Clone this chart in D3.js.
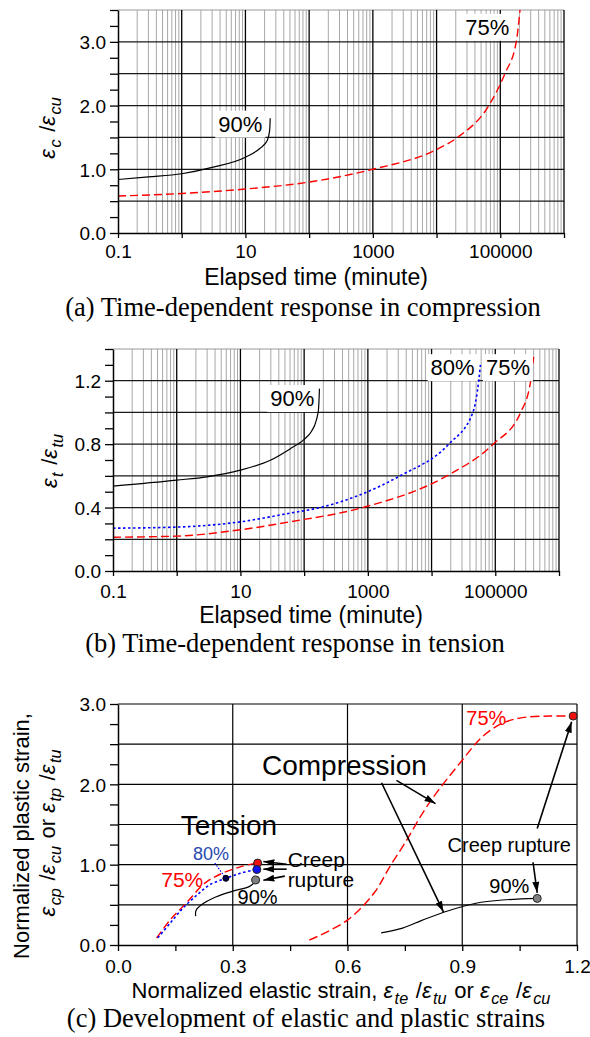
<!DOCTYPE html>
<html><head><meta charset="utf-8">
<script src="https://cdn.jsdelivr.net/npm/d3@7"></script>
<style>body{margin:0;background:#fff}svg{display:block}</style>
</head><body>
<svg id="chart" width="590" height="1037"></svg>
<script>
// ---------------- DATA ----------------
const timeTickValues = [0.1, 10, 1000, 100000];
const timeTickLabels = ["0.1", "10", "1000", "100000"];

// (a) compression: elapsed time (minute) vs eps_c/eps_cu
const compTime90  = [0.1, 0.3, 1, 3, 10, 17, 22, 24, 24.5];
const compRatio90 = [0.84, 0.88, 0.93, 1.03, 1.19, 1.33, 1.45, 1.61, 1.80];
const compTime75  = [0.1, 1, 10, 100, 1000, 10000, 21300, 66000, 118000, 178000, 204000];
const compRatio75 = [0.58, 0.62, 0.69, 0.80, 1.00, 1.31, 1.50, 2.00, 2.50, 3.00, 3.50];
const compYTickLabels = ["0.0", "1.0", "2.0", "3.0"];

// (b) tension: elapsed time (minute) vs eps_t/eps_tu
const tensTime90  = [0.1, 1, 3, 10, 30, 60, 100, 130, 155, 168, 174];
const tensRatio90 = [0.535, 0.573, 0.594, 0.636, 0.70, 0.77, 0.83, 0.88, 0.95, 1.02, 1.15];
const tensTime80  = [0.1, 1, 10, 60, 178, 3200, 18600, 44500, 55000, 58500];
const tensRatio80 = [0.27, 0.277, 0.31, 0.365, 0.40, 0.60, 0.80, 1.00, 1.20, 1.30];
const tensTime75  = [0.1, 1, 10, 60, 830, 17400, 93000, 250000, 360000, 400000];
const tensRatio75 = [0.213, 0.22, 0.26, 0.31, 0.40, 0.60, 0.80, 1.00, 1.20, 1.35];
const tensYTickLabels = ["0.0", "0.4", "0.8", "1.2"];

// (c) normalized elastic strain vs normalized plastic strain
const tens75Elastic = [0.101, 0.136, 0.180, 0.227, 0.271, 0.318, 0.352, 0.365];
const tens75Plastic = [0.087, 0.31, 0.53, 0.77, 0.89, 0.97, 1.01, 1.02];
const tens80Elastic = [0.104, 0.136, 0.17, 0.206, 0.24, 0.282, 0.318, 0.352, 0.363];
const tens80Plastic = [0.09, 0.27, 0.46, 0.62, 0.75, 0.83, 0.89, 0.93, 0.94];
const tens90Elastic = [0.203, 0.204, 0.218, 0.257, 0.30, 0.344, 0.36];
const tens90Plastic = [0.36, 0.43, 0.50, 0.60, 0.67, 0.73, 0.79];
const comp75Elastic = [0.50, 0.60, 0.67, 0.71, 0.754, 0.796, 0.832, 0.90, 0.952, 1.005, 1.057, 1.127, 1.19];
const comp75Plastic = [0.06, 0.31, 0.65, 0.97, 1.30, 1.64, 1.89, 2.30, 2.59, 2.76, 2.83, 2.85, 2.85];
const comp90Elastic = [0.688, 0.744, 0.796, 0.866, 0.936, 1.005, 1.096];
const comp90Plastic = [0.15, 0.21, 0.31, 0.43, 0.52, 0.56, 0.58];
const ruptureElastic = [0.365, 0.363, 0.360, 1.19, 1.096];
const rupturePlastic = [1.02, 0.94, 0.81, 2.85, 0.58];
const ruptureSeries  = ["t75", "t80", "t90", "c75", "c90"];
const strainXTickLabels = ["0.0", "0.3", "0.6", "0.9", "1.2"];
const strainYTickLabels = ["0.0", "1.0", "2.0", "3.0"];

// ---------------- DRAWING ----------------
const SANS = '"Liberation Sans", Arial, Helvetica, sans-serif';
const SERIF = '"Liberation Serif", "Times New Roman", serif';
const svg = d3.select("#chart");
const RED = "#ff0000", BLUE = "#0000ff";
const zip = (a, b) => a.map((v, i) => [v, b[i]]);

const defs = svg.append("defs");
defs.append("marker").attr("id", "arrow").attr("markerUnits", "userSpaceOnUse")
  .attr("markerWidth", 12).attr("markerHeight", 8).attr("refX", 11).attr("refY", 4)
  .attr("orient", "auto")
  .append("path").attr("d", "M0,0.5L11,4L0,7.5Z").attr("fill", "#000");

function richText(sel, parts, size) {
  let shifted = false;
  parts.forEach(p => {
    const ts = sel.append("tspan").text(p.t);
    if (p.it) ts.attr("font-style", "italic");
    if (p.sub) {
      ts.attr("font-size", size * 0.74);
      if (!shifted) { ts.attr("dy", size * 0.28).attr("dx", 1.5); shifted = true; }
    } else if (shifted) { ts.attr("dy", -size * 0.28).attr("dx", 1.5); shifted = false; }
  });
}
const eps = s => [{t: "ε", it: true}, {t: s, it: true, sub: true}];

function boxedLabel(g, x, y, txt, size, color) {
  const gg = g.append("g");
  const t = gg.append("text").attr("x", x).attr("y", y).attr("text-anchor", "middle")
    .attr("font-family", SANS).attr("font-size", size).attr("fill", color || "#000").text(txt);
  const bb = t.node().getBBox();
  gg.insert("rect", "text").attr("x", bb.x - 3).attr("y", bb.y - 1).attr("width", bb.width + 6)
    .attr("height", bb.height + 2).attr("fill", "#fff");
}

function styleAxis(ax, size) {
  ax.select(".domain").attr("stroke", "#000").attr("stroke-width", 1.5);
  ax.selectAll(".tick line").attr("stroke", "#000").attr("stroke-width", 1.3);
  ax.selectAll(".tick text").attr("font-family", SANS).attr("font-size", size).attr("fill", "#000");
}

function timeChart(o) {
  const x = d3.scaleLog().domain([0.1, 1e6]).range([o.left, o.right]);
  const y = d3.scaleLinear().domain([0, o.ymax]).range([o.bottom, o.top]);
  const g = svg.append("g");
  const minors = [];
  for (let e = -1; e < 6; e++) for (let k = 2; k < 10; k++) minors.push(k * Math.pow(10, e));
  g.selectAll(null).data(minors).join("line")
    .attr("x1", d => x(d)).attr("x2", d => x(d)).attr("y1", o.top).attr("y2", o.bottom)
    .attr("stroke", "#a8a8a8").attr("stroke-width", 1);
  const nH = Math.round(o.ymax / o.gridStep);
  const hs = d3.range(1, nH + 1).map(i => +(i * o.gridStep).toFixed(3));
  g.selectAll(null).data(hs).join("line")
    .attr("x1", o.left).attr("x2", o.right).attr("y1", d => y(d)).attr("y2", d => y(d))
    .attr("stroke", (d, i) => i === nH - 1 ? "#999" : "#1a1a1a").attr("stroke-width", 1.2);
  const decades = d3.range(0, 7).map(e => Math.pow(10, e));
  g.selectAll(null).data(decades).join("line")
    .attr("x1", d => x(d)).attr("x2", d => x(d)).attr("y1", o.top).attr("y2", o.bottom)
    .attr("stroke", "#000").attr("stroke-width", 1.3);

  const line = d3.line().x(d => x(d[0])).y(d => y(d[1])).curve(d3.curveMonotoneX);
  o.series.forEach(s => {
    g.append("path").attr("d", line(zip(s.t, s.v))).attr("fill", "none")
      .attr("stroke", s.color).attr("stroke-width", s.width || 1.4)
      .attr("stroke-dasharray", s.dash || null);
  });
  o.labels.forEach(l => boxedLabel(g, x(l.t), y(l.v), l.text, 22));

  // axes
  const ax = g.append("g").attr("transform", `translate(0,${o.bottom})`)
    .call(d3.axisBottom(x).tickValues([0.1, ...decades]).tickSize(5).tickSizeOuter(0)
      .tickFormat(d => {
        const i = timeTickValues.findIndex(v => Math.abs(v - d) / v < 1e-6);
        return i >= 0 ? timeTickLabels[i] : "";
      }));
  styleAxis(ax, 19);
  ax.selectAll(".tick text").attr("y", o.tickBase - o.bottom).attr("dy", 0);
  const yt = d3.range(0, Math.round(o.ymax / o.minorStep) + 1).map(i => +(i * o.minorStep).toFixed(3));
  const ay = g.append("g").attr("transform", `translate(${o.left},0)`)
    .call(d3.axisLeft(y).tickValues(yt).tickSize(8).tickPadding(4).tickSizeOuter(0)
      .tickFormat(d => {
        const i = o.yLabelVals.findIndex(v => Math.abs(v - d) < 1e-6);
        return i >= 0 ? o.yLabels[i] : "";
      }));
  styleAxis(ay, 19);
  ay.selectAll(".tick text").attr("dy", "0.36em");

  g.append("text").attr("x", o.xLabelX).attr("y", o.xLabelBase).attr("text-anchor", "middle")
    .attr("font-family", SANS).attr("font-size", 23).text("Elapsed time (minute)");
  g.append("text").attr("x", o.capX).attr("y", o.capBase).attr("text-anchor", "middle")
    .attr("font-family", SERIF).attr("font-size", 26.5).text(o.caption);
  const yl = g.append("text").attr("transform", `translate(${o.yLabX},${o.yLabY}) rotate(-90)`)
    .attr("text-anchor", "middle").attr("font-family", SANS).attr("font-size", 22);
  richText(yl, o.yLabParts, 22);
}

timeChart({
  left: 118, right: 564, top: 10, bottom: 233, ymax: 3.5, gridStep: 0.5, minorStep: 0.25,
  yLabelVals: [0, 1, 2, 3], yLabels: compYTickLabels, tickBase: 258,
  xLabelX: 316, xLabelBase: 285, capX: 303, capBase: 316,
  caption: "(a) Time-dependent response in compression",
  yLabX: 55, yLabY: 128, yLabParts: [...eps("c"), {t: " /"}, ...eps("cu")],
  series: [
    {t: compTime90, v: compRatio90, color: "#000", width: 1.2},
    {t: compTime75, v: compRatio75, color: RED, dash: "8,4", width: 1.4}
  ],
  labels: [{t: 8.3, v: 1.59, text: "90%"}, {t: 62400, v: 3.11, text: "75%"}]
});

timeChart({
  left: 113, right: 559, top: 349, bottom: 571, ymax: 1.4, gridStep: 0.2, minorStep: 0.1,
  yLabelVals: [0, 0.4, 0.8, 1.2], yLabels: tensYTickLabels, tickBase: 598,
  xLabelX: 311, xLabelBase: 623, capX: 295, capBase: 652,
  caption: "(b) Time-dependent response in tension",
  yLabX: 57, yLabY: 461, yLabParts: [...eps("t"), {t: " /"}, ...eps("tu")],
  series: [
    {t: tensTime90, v: tensRatio90, color: "#000", width: 1.2},
    {t: tensTime80, v: tensRatio80, color: BLUE, dash: "2.5,2.5", width: 1.6},
    {t: tensTime75, v: tensRatio75, color: RED, dash: "8,4", width: 1.4}
  ],
  labels: [{t: 65, v: 1.04, text: "90%"}, {t: 21400, v: 1.235, text: "80%"}, {t: 158000, v: 1.235, text: "75%"}]
});

// ---------- (c) ----------
(function () {
  const L = 118, R = 577, T = 704, B = 945;
  const x = d3.scaleLinear().domain([0, 1.2]).range([L, R]);
  const y = d3.scaleLinear().domain([0, 3]).range([B, T]);
  const g = svg.append("g");
  g.selectAll(null).data([0.3, 0.6, 0.9, 1.2]).join("line")
    .attr("x1", d => x(d)).attr("x2", d => x(d)).attr("y1", T).attr("y2", B)
    .attr("stroke", "#000").attr("stroke-width", 1.2);
  g.selectAll(null).data([0.5, 1, 1.5, 2, 2.5, 3]).join("line")
    .attr("x1", L).attr("x2", R).attr("y1", d => y(d)).attr("y2", d => y(d))
    .attr("stroke", "#000").attr("stroke-width", 1.2);

  const line = d3.line().x(d => x(d[0])).y(d => y(d[1])).curve(d3.curveCatmullRom.alpha(0.5));
  const series = [
    {x: tens75Elastic, y: tens75Plastic, color: RED, dash: "8,4", w: 1.4},
    {x: tens80Elastic, y: tens80Plastic, color: BLUE, dash: "2.5,2.5", w: 1.6},
    {x: tens90Elastic, y: tens90Plastic, color: "#000", w: 1.2},
    {x: comp75Elastic, y: comp75Plastic, color: RED, dash: "9,4", w: 1.4},
    {x: comp90Elastic, y: comp90Plastic, color: "#000", w: 1.2}
  ];
  series.forEach(s => g.append("path").attr("d", line(zip(s.x, s.y))).attr("fill", "none")
    .attr("stroke", s.color).attr("stroke-width", s.w).attr("stroke-dasharray", s.dash || null));

  // 80% leader
  g.append("line").attr("x1", x(0.253)).attr("y1", y(1.02)).attr("x2", x(0.282)).attr("y2", y(0.83))
    .attr("stroke", BLUE).attr("stroke-width", 1.2).attr("stroke-dasharray", "1.5,1.5");
  g.append("circle").attr("cx", x(0.282)).attr("cy", y(0.83)).attr("r", 3)
    .attr("fill", "#000050").attr("stroke", "#000").attr("stroke-width", 1);

  const dotFill = {t75: "#ee1111", t80: "#1111ee", t90: "#808080", c75: "#ee1111", c90: "#808080"};
  g.selectAll(null).data(d3.range(ruptureElastic.length)).join("circle")
    .attr("cx", i => x(ruptureElastic[i])).attr("cy", i => y(rupturePlastic[i])).attr("r", 4)
    .attr("fill", i => dotFill[ruptureSeries[i]]).attr("stroke", "#222").attr("stroke-width", 1);

  const arrows = [
    [[0.728, 2.05], [0.830, 1.76]],
    [[0.689, 2.02], [0.851, 0.41]],
    [[1.096, 1.45], [1.186, 2.78]],
    [[1.085, 1.03], [1.096, 0.65]],
    [[0.441, 1.006], [0.380, 1.04]],
    [[0.441, 0.944], [0.380, 0.944]],
    [[0.436, 0.857], [0.380, 0.807]]
  ];
  arrows.forEach(a => g.append("line").attr("x1", x(a[0][0])).attr("y1", y(a[0][1]))
    .attr("x2", x(a[1][0])).attr("y2", y(a[1][1])).attr("stroke", "#000").attr("stroke-width", 1.6)
    .attr("marker-end", "url(#arrow)"));

  const texts = [
    {x: 0.592, y: 2.11, t: "Compression", s: 28, a: "middle", c: "#000"},
    {x: 0.29, y: 1.37, t: "Tension", s: 28, a: "middle", c: "#000"},
    {x: 0.243, y: 1.056, t: "80%", s: 18, a: "middle", c: "#2848b0"},
    {x: 0.168, y: 0.72, t: "75%", s: 21, a: "middle", c: RED},
    {x: 0.365, y: 0.51, t: "90%", s: 20, a: "middle", c: "#000"},
    {x: 0.4435, y: 0.97, t: "Creep", s: 21, a: "start", c: "#000"},
    {x: 0.4435, y: 0.72, t: "rupture", s: 21, a: "start", c: "#000"},
    {x: 1.023, y: 1.155, t: "Creep rupture", s: 20, a: "middle", c: "#000"},
    {x: 0.963, y: 2.733, t: "75%", s: 20, a: "middle", c: RED},
    {x: 1.023, y: 0.646, t: "90%", s: 20, a: "middle", c: "#000"}
  ];
  texts.forEach(d => g.append("text").attr("x", x(d.x)).attr("y", y(d.y)).attr("text-anchor", d.a)
    .attr("font-family", SANS).attr("font-size", d.s).attr("fill", d.c).text(d.t));

  const xt = d3.range(0, 9).map(i => +(i * 0.15).toFixed(2));
  const ax = g.append("g").attr("transform", `translate(0,${B})`)
    .call(d3.axisBottom(x).tickValues(xt).tickSize(6).tickSizeOuter(0)
      .tickFormat((d, i) => i % 2 === 0 ? strainXTickLabels[i / 2] : ""));
  styleAxis(ax, 19);
  ax.selectAll(".tick text").attr("y", 973 - B).attr("dy", 0);
  const yt = d3.range(0, 13).map(i => +(i * 0.25).toFixed(2));
  const ay = g.append("g").attr("transform", `translate(${L},0)`)
    .call(d3.axisLeft(y).tickValues(yt).tickSize(8).tickPadding(4).tickSizeOuter(0)
      .tickFormat((d, i) => i % 4 === 0 ? strainYTickLabels[i / 4] : ""));
  styleAxis(ay, 19);
  ay.selectAll(".tick text").attr("dy", "0.36em");

  const xl = g.append("text").attr("x", 341).attr("y", 998).attr("text-anchor", "middle")
    .attr("font-family", SANS).attr("font-size", 22);
  richText(xl, [{t: "Normalized elastic strain, "}, ...eps("te"), {t: " /"}, ...eps("tu"), {t: " or "},
    ...eps("ce"), {t: " /"}, ...eps("cu")], 22);
  g.append("text").attr("x", 306).attr("y", 1027).attr("text-anchor", "middle")
    .attr("font-family", SERIF).attr("font-size", 26.5).text("(c) Development of elastic and plastic strains");
  g.append("text").attr("transform", "translate(29,836) rotate(-90)").attr("text-anchor", "middle")
    .attr("font-family", SANS).attr("font-size", 22).text("Normalized plastic strain,");
  const yl2 = g.append("text").attr("transform", "translate(55,833) rotate(-90)").attr("text-anchor", "middle")
    .attr("font-family", SANS).attr("font-size", 22);
  richText(yl2, [...eps("cp"), {t: " /"}, ...eps("cu"), {t: " or "}, ...eps("tp"), {t: " /"}, ...eps("tu")], 22);
})();
</script>
</body></html>
